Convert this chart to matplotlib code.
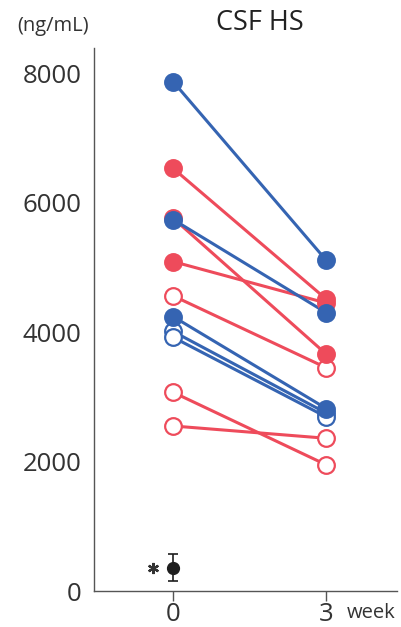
import numpy as np
import matplotlib.pyplot as plt
from matplotlib.transforms import offset_copy

plt.rcParams['font.family'] = ['Open Sans', 'DejaVu Sans']

weeks = [0, 3]
# red group
red_w0 = [6530, 5760, 5090, 4560, 3070, 2550]
red_w3 = [4510, 3660, 4450, 3450, 1950, 2360]
red_filled = [True, True, True, False, False, False]
# blue group
blue_w0 = [7870, 5740, 4240, 4010, 3920]
blue_w3 = [5110, 4300, 2820, 2750, 2690]
blue_filled = [True, True, True, False, False]
# control (mean +/- sd)
ctrl_mean = 360
ctrl_err = 210

red = '#ee4b5b'
blue = '#3564b2'

fig = plt.figure(figsize=(4.02, 6.27), dpi=100)
ax = fig.add_axes([0.234, 0.0574, 0.754, 0.866])

def pair(a, b, col, filled):
    ax.plot(weeks, [a, b], '-', color=col, lw=2.2, zorder=2)
    ax.plot(weeks, [a, b], 'o', ms=12, mec=col, mew=1.6,
            mfc=col if filled else 'white', zorder=3 if filled else 2.5)

for a, b, f in zip(red_w0, red_w3, red_filled):
    pair(a, b, red, f)
for a, b, f in zip(blue_w0, blue_w3, blue_filled):
    pair(a, b, blue, f)

ax.errorbar([0], [ctrl_mean], yerr=[ctrl_err], fmt='o', color='#1e1e1e',
            ms=8.5, capsize=3.6, elinewidth=1.2, capthick=1.2)
# significance mark, left of the control point
star_tr = offset_copy(ax.transData, fig=fig, x=-14.5, y=0, units='points')
ax.plot([0], [ctrl_mean], marker=(6, 2, 0), ms=8, mew=1.6, color='#333333',
        transform=star_tr, clip_on=False)

ax.set_xlim(-1.55, 4.39)
ax.set_ylim(0, 8390)
ax.set_xticks(weeks)
ax.set_xticklabels(['0', '3'])
ax.set_yticks([0, 2000, 4000, 6000, 8000])
ax.tick_params(axis='y', length=0, pad=9, labelsize=18.5, labelcolor='#333333')
ax.tick_params(axis='x', length=7, width=1, pad=1, labelsize=18.5,
               labelcolor='#333333', color='#555555')
for s in ['top', 'right']:
    ax.spines[s].set_visible(False)
for s in ['left', 'bottom']:
    ax.spines[s].set_color('#555555')
    ax.spines[s].set_linewidth(1)

fig.text(347 / 402, 1 - 613 / 627, 'week', fontsize=14.5, va='center', color='#333333')
fig.text(53 / 402, 1 - 26 / 627, '(ng/mL)', fontsize=14.5, ha='center', va='center', color='#333333')
fig.text(260 / 402, 1 - 23 / 627, 'CSF HS', fontsize=19.5, ha='center', va='center', color='#222222')

fig.savefig('out.png', dpi=100)
